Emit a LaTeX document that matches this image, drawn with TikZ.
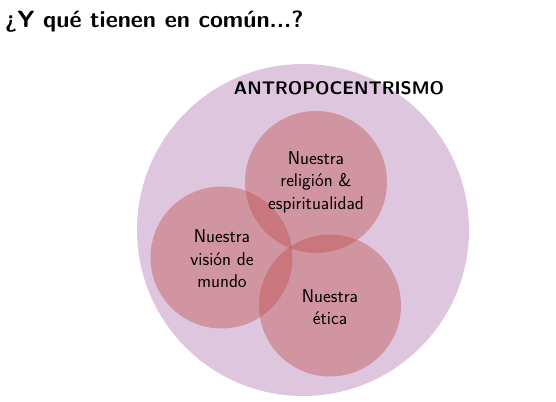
\documentclass[tikz,border=0pt]{standalone}
\usepackage{fontspec}
\begin{document}
\begin{tikzpicture}[x=1pt,y=-1pt,
  bigc/.style={circle,fill={rgb,255:red,223;green,198;blue,223},minimum size=332pt,inner sep=0pt},
  smallc/.style={circle,fill={rgb,255:red,192;green,80;blue,77},fill opacity=0.42,minimum size=142pt,inner sep=0pt},
  lbl/.style={font=\sffamily\fontsize{18.5}{22.5}\selectfont,align=center,text=black,text opacity=1}]
\useasboundingbox (0,0) rectangle (556,401);
\begin{scope}
\clip (0,0) rectangle (556,401);
\node[bigc] (big) at (303,230) {};
\end{scope}
\node[smallc] (rel) at (316,182) {};
\node[smallc] (vis) at (221.5,257.5) {};
\node[smallc] (eti) at (330,305.5) {};
\node[anchor=west,inner sep=0pt,font=\sffamily\bfseries\fontsize{23.5}{28}\selectfont] (title) at (5,22) {¿Y qué tienen en común...?};
\node[font=\sffamily\bfseries\fontsize{18.2}{22}\selectfont] (antro) at (339,88) {ANTROPOCENTRISMO};
\node[lbl] (trel) at (316,182) {Nuestra\\religión \&\\espiritualidad};
\node[lbl] (tvis) at (222,259) {Nuestra\\visión de\\mundo};
\node[lbl] (teti) at (330,307) {Nuestra\\ética};
\end{tikzpicture}
\end{document}
